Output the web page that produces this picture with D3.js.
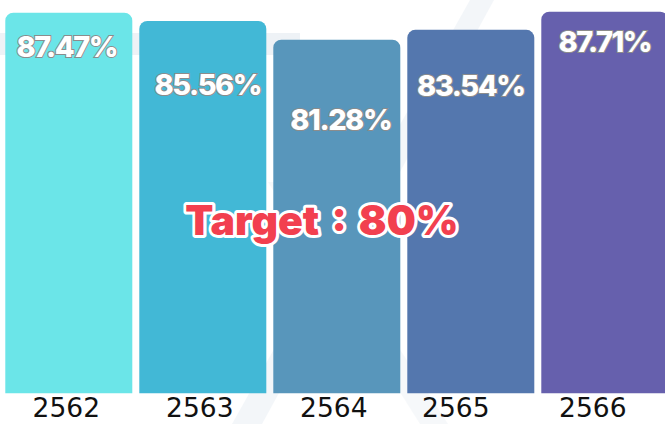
<!DOCTYPE html>
<html>
<head>
<meta charset="utf-8">
<script src="https://cdn.jsdelivr.net/npm/d3@7"></script>
<style>
  html, body { margin: 0; padding: 0; background: #ffffff; }
  svg { display: block; }
</style>
</head>
<body>
<svg id="chart" width="665" height="424"></svg>
<script>
// Yearly achievement rate (Buddhist-era years)
const years = ["2562", "2563", "2564", "2565", "2566"];
const rates = [87.47, 85.56, 81.28, 83.54, 87.71];
const targetRate = 80;

// Styling
const barColors = ["#6be5e8", "#42b8d6", "#5896bb", "#5477ae", "#6660ad"];
const labelDrop = [44.6, 74.3, 90.3, 66, 40];      // value label baseline below bar top
const labelNudge = [-2, 5, 4, 0, 0];                // horizontal shift of value labels
const yearNudge = [-2.5, -3, -3, -15, -12];          // horizontal shift of year labels

const width = 665, height = 424;
const svg = d3.select("#chart");

// faint background watermark
const wm = svg.append("g").attr("fill", "#eef2f6");
wm.append("rect").attr("x", 0).attr("y", 33).attr("width", 300).attr("height", 22);
wm.append("polygon").attr("points", "470,0 494,0 262,424 232,424").attr("opacity", 0.7);
wm.append("polygon").attr("points", "268,182 292,182 448,424 420,424").attr("opacity", 0.5);

const x = d3.scaleBand()
  .domain(years)
  .range([5.3, 668.3])
  .paddingInner(7 / 134)
  .paddingOuter(0);

const y = d3.scaleLinear()
  .domain([0, 100])
  .range([393.3, -41.8]);

const r = 8;
function topRounded(x0, y0, w, h) {
  const p = d3.path();
  p.moveTo(x0, y0 + h);
  p.lineTo(x0, y0 + r);
  p.arcTo(x0, y0, x0 + r, y0, r);
  p.lineTo(x0 + w - r, y0);
  p.arcTo(x0 + w, y0, x0 + w, y0 + r, r);
  p.lineTo(x0 + w, y0 + h);
  p.closePath();
  return p.toString();
}

const data = years.map((yr, i) => ({ yr, v: rates[i], i }));

svg.append("g").selectAll("path")
  .data(data)
  .join("path")
  .attr("d", d => topRounded(x(d.yr), y(d.v), x.bandwidth(), y(0) - y(d.v)))
  .attr("fill", d => barColors[d.i]);

// value labels
svg.append("g").selectAll("text")
  .data(data)
  .join("text")
  .attr("x", d => x(d.yr) + x.bandwidth() / 2 + labelNudge[d.i])
  .attr("y", d => y(d.v) + labelDrop[d.i])
  .attr("text-anchor", "middle")
  .attr("font-family", "Inter, 'Noto Sans', sans-serif")
  .attr("font-weight", 800)
  .attr("font-size", 29)
  .attr("letter-spacing", -1.5)
  .attr("fill", "#ffffff")
  .attr("stroke", "#8c8c8c")
  .attr("stroke-width", 2)
  .attr("paint-order", "stroke")
  .text(d => d3.format(".2f")(d.v) + "%");

// year axis labels
svg.append("g").selectAll("text")
  .data(data)
  .join("text")
  .attr("x", d => x(d.yr) + x.bandwidth() / 2 + yearNudge[d.i])
  .attr("y", 417)
  .attr("text-anchor", "middle")
  .attr("font-family", "'DejaVu Sans', sans-serif")
  .attr("font-size", 26.5)
  .attr("fill", "#111111")
  .text(d => d.yr);

// target annotation
svg.append("text")
  .attr("x", 322)
  .attr("y", 235)
  .attr("text-anchor", "middle")
  .attr("font-family", "Inter, 'Noto Sans', sans-serif")
  .attr("font-weight", 900)
  .attr("font-size", 41)
  .attr("word-spacing", 4)
  .attr("fill", "#f2404f")
  .attr("stroke", "#ffffff")
  .attr("stroke-width", 6)
  .attr("stroke-linejoin", "round")
  .attr("paint-order", "stroke")
  .text("Target : " + targetRate + "%");
</script>
</body>
</html>
